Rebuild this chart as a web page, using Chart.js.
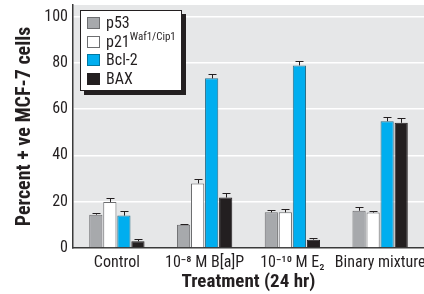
<!DOCTYPE html>
<html><head><meta charset="utf-8">
<script src="https://cdn.jsdelivr.net/npm/chart.js@4"></script>
<style>
html,body{margin:0;padding:0;background:#fff;}
#wrap{position:relative;width:424px;height:294px;font-family:"Liberation Sans Narrow","Roboto Condensed","Liberation Sans",sans-serif;}
canvas{position:absolute;left:0;top:0;}
#legend{position:absolute;left:80px;top:10px;width:100px;height:79px;background:#fff;border:1px solid #231f20;box-shadow:4px 4px 0 #231f20;font-size:16px;color:#231f20;}
.row{position:absolute;left:6px;height:18px;line-height:18px;white-space:nowrap;}
.sw{display:inline-block;width:13px;height:12px;border:1px solid #6d6e70;vertical-align:-1px;margin-right:6px;box-sizing:border-box;}
sup{font-size:11px;vertical-align:7px;line-height:0;}
</style></head>
<body>
<div id="wrap">
<canvas id="c" width="424" height="294"></canvas>
<div id="legend">
<div class="row" style="top:3px"><span class="sw" style="background:#a7a9ac"></span>p53</div>
<div class="row" style="top:22px"><span class="sw" style="background:#fff"></span>p21<sup>Waf1/Cip1</sup></div>
<div class="row" style="top:40px"><span class="sw" style="background:#00aeef;border-color:#0077a0"></span>Bcl-2</div>
<div class="row" style="top:59px"><span class="sw" style="background:#231f20;border-color:#231f20"></span>BAX</div>
</div>
</div>
<script>
const categories = ["Control", "10\u207B\u2078 M B[a]P", "10\u207B\u00B9\u2070 M E\u2082", "Binary mixture"];
const seriesNames = ["p53", "p21 Waf1/Cip1", "Bcl-2", "BAX"];
const p53 = [14.4, 10.0, 15.4, 16.1];
const p21 = [19.9, 27.9, 15.4, 15.3];
const bcl2 = [14.0, 73.3, 78.9, 54.8];
const bax = [2.9, 21.8, 3.6, 54.1];
const p53Err = [0.7, 0.5, 0.9, 1.8];
const p21Err = [1.9, 1.8, 1.5, 0.7];
const bcl2Err = [2.1, 2.1, 1.8, 1.7];
const baxErr = [0.9, 2.0, 0.6, 2.2];
const yTicks = [0, 20, 40, 60, 80, 100];

const FONT = '"Liberation Sans Narrow","Roboto Condensed","Liberation Sans",sans-serif';

const bgPlugin = {
  id: 'bg',
  beforeDraw(chart) {
    const {ctx, chartArea: a} = chart;
    ctx.save();
    ctx.fillStyle = '#e6e7e8';
    ctx.fillRect(a.left, a.top, a.right - a.left, a.bottom - a.top);
    ctx.restore();
  }
};

const errPlugin = {
  id: 'err',
  afterDatasetsDraw(chart) {
    const ctx = chart.ctx;
    const y = chart.scales.y;
    chart.data.datasets.forEach((ds, i) => {
      const meta = chart.getDatasetMeta(i);
      meta.data.forEach((bar, j) => {
        const top = y.getPixelForValue(ds.data[j] + ds.err[j]);
        const base = y.getPixelForValue(ds.data[j]);
        ctx.save();
        ctx.strokeStyle = '#231f20';
        ctx.lineWidth = 1;
        ctx.beginPath();
        ctx.moveTo(Math.round(bar.x) + 0.5, base);
        ctx.lineTo(Math.round(bar.x) + 0.5, Math.round(top) + 0.5);
        ctx.moveTo(Math.round(bar.x) - 3.5, Math.round(top) + 0.5);
        ctx.lineTo(Math.round(bar.x) + 4.5, Math.round(top) + 0.5);
        ctx.stroke();
        ctx.restore();
      });
    });
  }
};

new Chart(document.getElementById('c'), {
  type: 'bar',
  data: {
    labels: categories,
    datasets: [
      {label: seriesNames[0], data: p53, err: p53Err, backgroundColor: '#a7a9ac', borderColor: '#6d6e70', borderWidth: 1},
      {label: seriesNames[1], data: p21, err: p21Err, backgroundColor: '#ffffff', borderColor: '#6d6e70', borderWidth: 1},
      {label: seriesNames[2], data: bcl2, err: bcl2Err, backgroundColor: '#00aeef', borderColor: '#2a6f8a', borderWidth: 1},
      {label: seriesNames[3], data: bax, err: baxErr, backgroundColor: '#231f20', borderColor: '#231f20', borderWidth: 1}
    ]
  },
  options: {
    responsive: false,
    animation: false,
    devicePixelRatio: 1,
    layout: {padding: {top: 5, right: 0, left: 13, bottom: 0}},
    datasets: {bar: {categoryPercentage: 0.64, barPercentage: 0.94}},
    plugins: {legend: {display: false}, tooltip: {enabled: false}},
    scales: {
      x: {
        grid: {display: false, drawTicks: false},
        border: {color: '#3a3a3a', width: 1.5},
        ticks: {color: '#231f20', font: {family: FONT, size: 16}, padding: 5, maxRotation: 0, autoSkip: false},
        title: {display: true, text: 'Treatment (24 hr)', color: '#231f20', font: {family: FONT, size: 19, weight: 'bold'}, padding: {top: 3, bottom: 0}},
        afterFit(s) { s.height = 46; s.paddingLeft = 0; s.paddingRight = 0; }
      },
      y: {
        min: 0, max: 105,
        afterBuildTicks(s) { s.ticks = yTicks.map(v => ({value: v})); },
        grid: {color: '#ffffff', lineWidth: 1.5, drawTicks: false},
        border: {color: '#3a3a3a', width: 1.5},
        ticks: {color: '#231f20', font: {family: FONT, size: 16}, padding: 5},
        title: {display: true, text: 'Percent + ve MCF-7 cells', color: '#231f20', font: {family: FONT, size: 20, weight: 'bold'}, padding: {top: 0, bottom: 2}},
        afterFit(s) { s.width = 60; s.paddingTop = 0; s.paddingBottom = 0; }
      }
    }
  },
  plugins: [bgPlugin, errPlugin]
});
</script>
</body></html>
